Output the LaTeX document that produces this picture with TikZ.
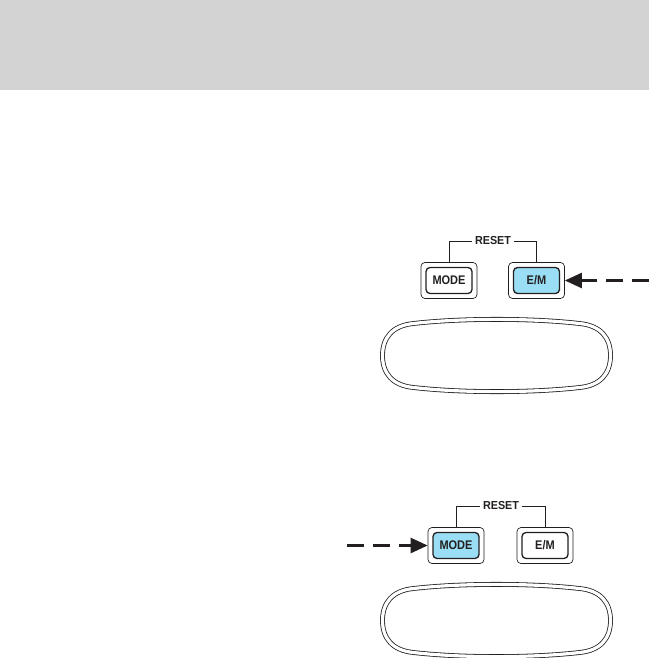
\documentclass[tikz,border=0pt]{standalone}
\usepackage{fontspec}
\usepackage{graphicx}
\setmainfont{Liberation Sans}
\usetikzlibrary{arrows.meta}
\definecolor{hdr}{RGB}{211,211,211}
\definecolor{keyblue}{RGB}{153,222,245}
\definecolor{ink}{RGB}{35,31,32}
\newcommand{\keytext}[1]{\scalebox{0.88}[1]{#1}}
\newcommand{\resettext}[1]{\scalebox{0.93}[1]{#1}}
\tikzset{
  bezel/.style={draw=ink, line width=0.7pt, rounded corners=4pt, minimum width=56pt, minimum height=36pt, inner sep=0pt},
  key/.style={draw=ink, line width=1.3pt, rounded corners=4pt, minimum width=46pt, minimum height=26pt, inner sep=0pt, fill=white, font=\fontsize{12.5}{14}\selectfont\bfseries, text=ink},
  keyon/.style={key, fill=keyblue},
  bracket/.style={draw=ink, line width=0.8pt},
  lbl/.style={font=\fontsize{11.6}{13}\selectfont\bfseries, text=ink, inner sep=0pt},
  pointer/.style={draw=ink, line width=2.5pt, dash pattern=on 17pt off 9pt, -{Triangle[length=17pt,width=15pt]}},
  display/.style={draw=ink, line width=0.8pt, double=white, double distance=3.2pt},
}
\newcommand{\dispshape}{(-83,-32) .. controls (-35,-37.5) and (35,-37.5) .. (83,-32) .. controls (104,-30) and (114,-18) .. (114,0) .. controls (114,18) and (104,30) .. (83,32) .. controls (35,37.5) and (-35,37.5) .. (-83,32) .. controls (-104,30) and (-114,18) .. (-114,0) .. controls (-114,-18) and (-104,-30) .. (-83,-32) -- cycle}
\begin{document}
\begin{tikzpicture}[x=1pt,y=-1pt]
\useasboundingbox (0,0) rectangle (649,658);
\fill[hdr] (0,0) rectangle (649,90);

% top unit
\node[bezel] (m1o) at (449,280.5) {};
\node[key] (m1) at (449,280.5) {\keytext{MODE}};
\node[bezel] (e1o) at (536.5,280.5) {};
\node[keyon] (e1) at (536.5,280.5) {\keytext{E/M}};
\node[lbl] (r1) at (493,241) {\resettext{RESET}};
\draw[bracket] ([xshift=-3pt]r1.west) -| (m1o.north);
\draw[bracket] ([xshift=3pt]r1.east) -| (e1o.north);
\coordinate (p1) at (649,280.5);
\draw[pointer] (p1) -- (e1o.east);
\draw[display, shift={(496.5,355.5)}] \dispshape;

% bottom unit
\node[bezel] (m2o) at (456,545.5) {};
\node[keyon] (m2) at (456,545.5) {\keytext{MODE}};
\node[bezel] (e2o) at (545,545.5) {};
\node[key] (e2) at (545,545.5) {\keytext{E/M}};
\node[lbl] (r2) at (501,506) {\resettext{RESET}};
\draw[bracket] ([xshift=-3pt]r2.west) -| (m2o.north);
\draw[bracket] ([xshift=3pt]r2.east) -| (e2o.north);
\coordinate (p2) at (347,545.5);
\draw[pointer] (p2) -- (m2o.west);
\draw[display, shift={(496.5,620.5)}] \dispshape;
\end{tikzpicture}
\end{document}
